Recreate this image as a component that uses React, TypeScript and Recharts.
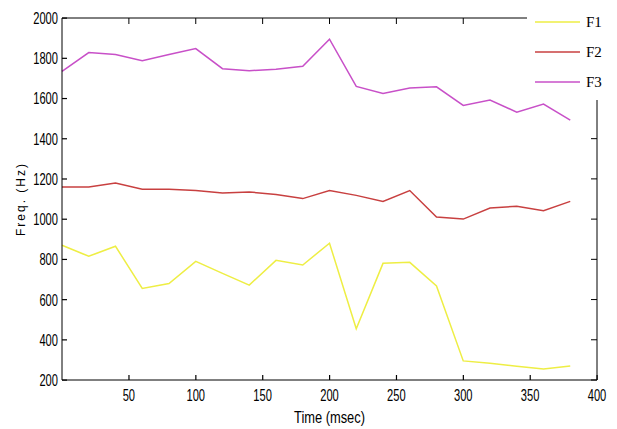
import { LineChart, Line, XAxis, YAxis, Legend } from 'recharts';

const timeMs = [0, 20, 40, 60, 80, 100, 120, 140, 160, 180, 200, 220, 240, 260, 280, 300, 320, 340, 360, 380];
const f1 = [870, 815, 865, 655, 680, 790, 730, 672, 795, 772, 880, 455, 780, 785, 668, 295, 283, 268, 255, 270];
const f2 = [1160, 1160, 1180, 1148, 1148, 1142, 1130, 1135, 1122, 1102, 1142, 1118, 1088, 1142, 1010, 1000, 1055, 1064, 1042, 1088];
const f3 = [1735, 1828, 1818, 1788, 1818, 1848, 1748, 1738, 1745, 1760, 1895, 1660, 1625, 1652, 1658, 1565, 1592, 1532, 1572, 1492];

const xTicks = [50, 100, 150, 200, 250, 300, 350, 400];
const yTicks = [200, 400, 600, 800, 1000, 1200, 1400, 1600, 1800, 2000];

const COLORS = ['#eeee44', '#c84040', '#c850c8'];
const NAMES = ['F1', 'F2', 'F3'];

const rows = timeMs.map((t, i) => ({ t, F1: f1[i], F2: f2[i], F3: f3[i] }));

const TICK_FONT = '"Liberation Sans Narrow", "Liberation Sans", Arial, sans-serif';
const TICK_LEN = 5;

const BottomTick = (props: any) => {
  const { x, y, payload } = props;
  const s = String(payload.value);
  return (
    <g>
      <rect x={x - 0.5} y={y - TICK_LEN} width={1.2} height={TICK_LEN} fill="#000" />
      <text
        x={x}
        y={y + 21}
        textAnchor="middle"
        fontFamily={TICK_FONT}
        fontSize={17}
        fill="#000"
        textLength={s.length * 6.2}
        lengthAdjust="spacingAndGlyphs"
      >
        {s}
      </text>
    </g>
  );
};

const LeftTick = (props: any) => {
  const { x, y, payload } = props;
  const s = String(payload.value);
  return (
    <g>
      <rect x={x} y={y - 0.5} width={TICK_LEN} height={1.2} fill="#000" />
      <text
        x={x - 4}
        y={y + 6}
        textAnchor="end"
        fontFamily={TICK_FONT}
        fontSize={17}
        fill="#000"
        textLength={s.length * 6.2}
        lengthAdjust="spacingAndGlyphs"
      >
        {s}
      </text>
    </g>
  );
};

const LegendBox = (props: any) => {
  const items = props.payload || [];
  return (
    <svg width={90} height={100} style={{ display: 'block', background: '#fff' }}>
      {items.map((it: any, i: number) => (
        <g key={it.value}>
          <line x1={8} x2={53} y1={22 + i * 30} y2={22 + i * 30} stroke={it.color} strokeWidth={1.5} />
          <text x={59} y={27 + i * 30} fontFamily='"Liberation Serif", "Times New Roman", serif' fontSize={15} fill="#000">
            {it.value}
          </text>
        </g>
      ))}
    </svg>
  );
};

export default function App() {
  return (
    <div style={{ position: 'absolute', left: 0, top: 0, width: 617, height: 429, background: '#fff' }}>
      <LineChart width={617} height={429} data={rows} margin={{ top: 18, right: 20, left: 0, bottom: 0 }}>
        <XAxis
          dataKey="t"
          type="number"
          domain={[0, 400]}
          ticks={xTicks}
          height={49}
          tickSize={0}
          tickMargin={0}
          tick={<BottomTick />}
          tickLine={false}
          axisLine={{ stroke: '#000' }}
          label={{
            content: ({ viewBox }: any) => (
              <text
                x={viewBox.x + viewBox.width / 2}
                y={viewBox.y + 43}
                textAnchor="middle"
                fontFamily={TICK_FONT}
                fontSize={16}
                fill="#000"
                textLength={71}
                lengthAdjust="spacingAndGlyphs"
              >
                Time (msec)
              </text>
            ),
          }}
        />
        <XAxis
          xAxisId="top"
          dataKey="t"
          orientation="top"
          type="number"
          domain={[0, 400]}
          ticks={xTicks}
          height={1}
          mirror
          tickSize={TICK_LEN + 1}
          tickFormatter={() => ''}
          tickLine={{ stroke: '#000' }}
          axisLine={{ stroke: '#000' }}
        />
        <YAxis
          type="number"
          domain={[200, 2000]}
          ticks={yTicks}
          width={62}
          tickSize={0}
          tickMargin={0}
          tick={<LeftTick />}
          tickLine={false}
          axisLine={{ stroke: '#000' }}
          label={{
            content: ({ viewBox }: any) => {
              const cx = viewBox.x + 22;
              const cy = viewBox.y + viewBox.height / 2;
              return (
                <text
                  x={cx}
                  y={cy}
                  transform={`rotate(-90 ${cx} ${cy})`}
                  textAnchor="middle"
                  dominantBaseline="middle"
                  fontFamily='"Liberation Sans", Arial, sans-serif'
                  fontSize={12}
                  letterSpacing={2}
                  fill="#000"
                >
                  Freq. (Hz)
                </text>
              );
            },
          }}
        />
        <YAxis
          yAxisId="right"
          orientation="right"
          type="number"
          domain={[200, 2000]}
          ticks={yTicks}
          width={1}
          mirror
          tickSize={TICK_LEN + 1}
          tickFormatter={() => ''}
          tickLine={{ stroke: '#000' }}
          axisLine={{ stroke: '#000' }}
        />
        {NAMES.map((n, i) => (
          <Line
            key={n}
            dataKey={n}
            name={n}
            xAxisId={i === 2 ? 'top' : 0}
            yAxisId={i === 2 ? 'right' : 0}
            stroke={COLORS[i]}
            strokeWidth={1.5}
            dot={false}
            activeDot={false}
            isAnimationActive={false}
          />
        ))}
        <Legend
          layout="vertical"
          align="center"
          verticalAlign="middle"
          content={<LegendBox />}
          wrapperStyle={{ position: 'absolute', left: 527, top: 0, width: 90, height: 100 }}
        />
      </LineChart>
    </div>
  );
}
